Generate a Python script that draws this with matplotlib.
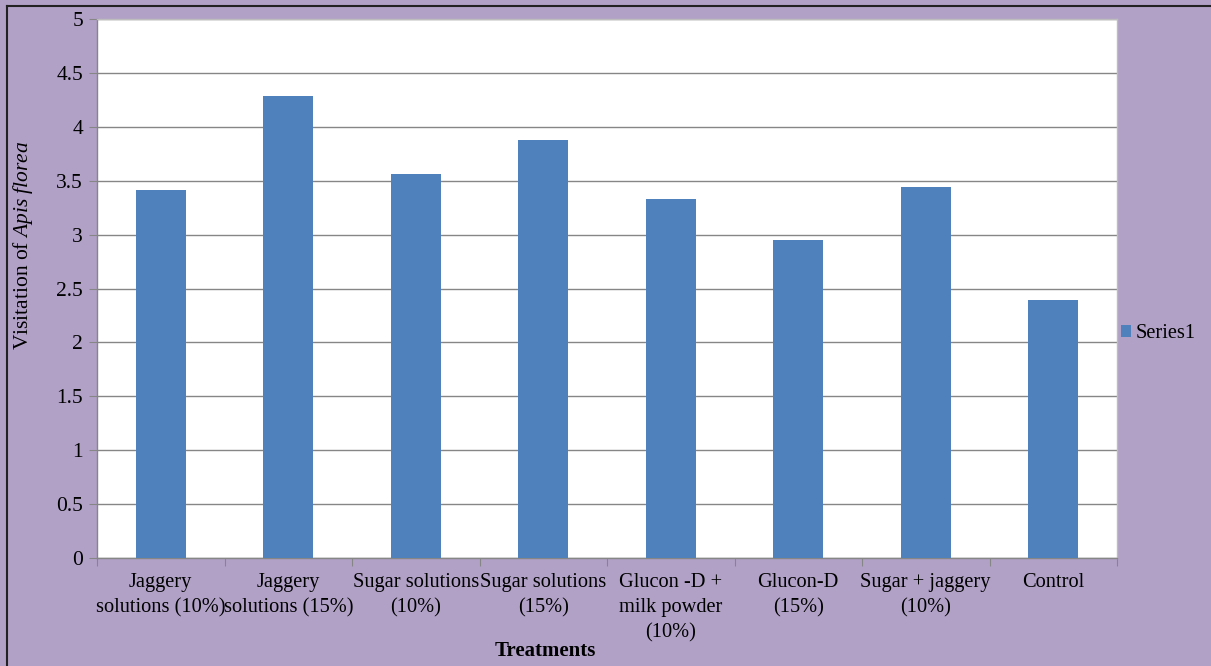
import matplotlib
matplotlib.use("Agg")
import matplotlib.pyplot as plt
from matplotlib.lines import Line2D
from matplotlib.patches import Patch

plt.rcParams['font.family'] = ['Liberation Serif', 'DejaVu Serif']
plt.rcParams['mathtext.fontset'] = 'custom'
plt.rcParams['mathtext.rm'] = 'Liberation Serif'
plt.rcParams['mathtext.it'] = 'Liberation Serif:italic'

categories = [
    "Jaggery\nsolutions (10%)",
    "Jaggery\nsolutions (15%)",
    "Sugar solutions\n(10%)",
    "Sugar solutions\n(15%)",
    "Glucon -D +\nmilk powder\n(10%)",
    "Glucon-D\n(15%)",
    "Sugar + jaggery\n(10%)",
    "Control",
]
visitation = [3.41, 4.29, 3.56, 3.88, 3.33, 2.95, 3.44, 2.39]
y_ticks = [0, 0.5, 1, 1.5, 2, 2.5, 3, 3.5, 4, 4.5, 5]
y_tick_labels = ["0", "0.5", "1", "1.5", "2", "2.5", "3", "3.5", "4", "4.5", "5"]

BG = "#B1A1C7"
BAR = "#4F81BD"
GRID = "#868686"

W, H = 1211, 666
fig = plt.figure(figsize=(W / 100, H / 100), dpi=100, facecolor=BG)
ax = fig.add_axes([97 / W, 1 - 558 / H, (1117 - 97) / W, (558 - 19) / H])
ax.set_facecolor("white")

x = list(range(len(categories)))
ax.bar(x, visitation, width=0.39, color=BAR, zorder=3)

ax.set_xlim(-0.5, len(categories) - 0.5)
ax.set_ylim(0, 5)
ax.set_yticks(y_ticks)
ax.set_yticklabels(y_tick_labels, fontsize=15.5)
ax.yaxis.grid(True, color=GRID, linewidth=1, zorder=0)

ax.set_xticks([i + 0.5 for i in range(-1, len(categories))])
ax.set_xticklabels([])
ax.set_xticks(x, minor=True)
ax.set_xticklabels(categories, minor=True, fontsize=14.7, linespacing=1.42, va="top")
ax.tick_params(axis="x", which="minor", length=0, pad=11)
ax.tick_params(axis="x", which="major", length=6, color=GRID, direction="out")
ax.tick_params(axis="y", length=6, color=GRID, direction="out", pad=4)

for s in ax.spines.values():
    s.set_color(GRID)
    s.set_linewidth(1)
ax.spines["top"].set_color("#BDBDBD")
ax.spines["right"].set_color("#BDBDBD")

fig.text(23 / W, 1 - 245 / H, r"Visitation of $\mathit{Apis\ florea}$",
         rotation=90, ha="center", va="center", fontsize=15.5)
fig.text(545 / W, 1 - 651 / H, "Treatments", ha="center", va="center",
         fontsize=15, fontweight="bold")

handle = Patch(facecolor=BAR, edgecolor="none")
fig.legend([handle], ["Series1"], loc="center left",
           bbox_to_anchor=(1121 / W, 1 - 334 / H), frameon=False,
           fontsize=14.7, handlelength=0.5, handleheight=0.5,
           handletextpad=0.2, borderpad=0, borderaxespad=0)

# outer frame of the chart (top and left edges)
fig.add_artist(Line2D([7 / W, 7 / W], [0, 1 - 6 / H], transform=fig.transFigure,
                      color="#222222", linewidth=1.5))
fig.add_artist(Line2D([7 / W, 1], [1 - 6 / H, 1 - 6 / H], transform=fig.transFigure,
                      color="#222222", linewidth=1.5))

fig.savefig("out.png", dpi=100, facecolor=BG)
